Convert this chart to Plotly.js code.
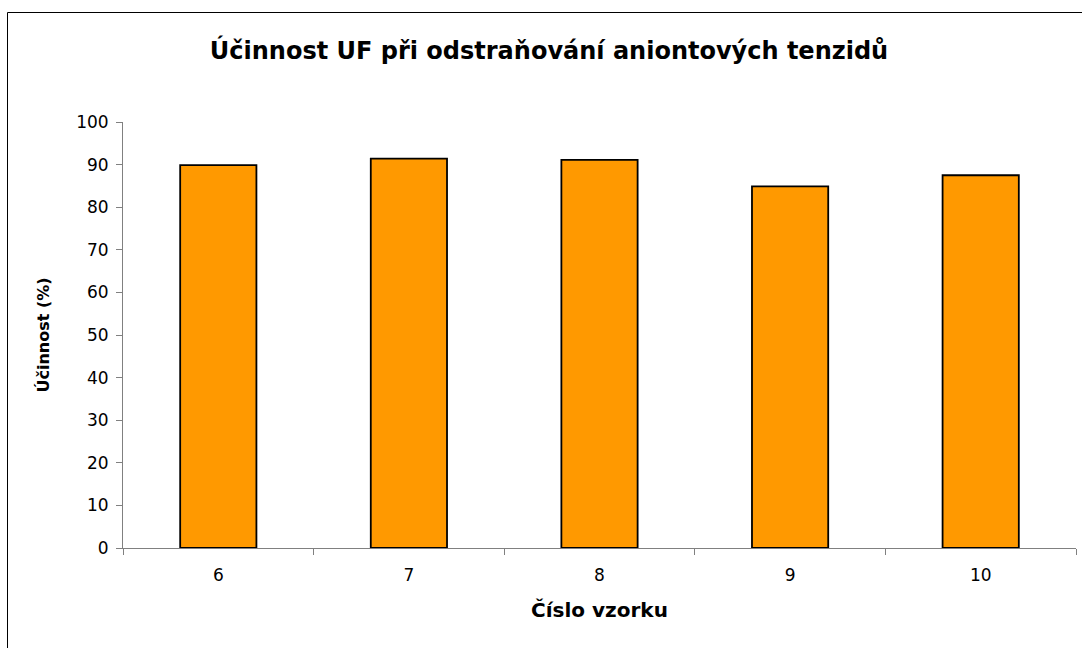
<!DOCTYPE html>
<html>
<head>
<meta charset="utf-8">
<script src="https://cdn.plot.ly/plotly-3.0.1.min.js"></script>
<style>html,body{margin:0;padding:0;background:#fff;overflow:hidden;}</style>
</head>
<body>
<div id="chart" style="width:1082px;height:648px;"></div>
<script>
const categories = ['6', '7', '8', '9', '10'];
const values = [89.9, 91.4, 91.1, 84.9, 87.5];
const yTicks = [0, 10, 20, 30, 40, 50, 60, 70, 80, 90, 100];

const W = 1082, H = 648;
const L = 123, R = 6, T = 122, B = 100;
const pw = W - L - R, ph = H - T - B;
const px = v => (v - L) / pw;
const py = v => 1 - (v - T) / ph;
const FONT = 'DejaVu Sans, Liberation Sans, Arial, sans-serif';

const trace = {
  type: 'bar',
  x: categories,
  y: values,
  marker: { color: '#FF9900', line: { color: '#000000', width: 1.8 } },
  hoverinfo: 'x+y'
};

const layout = {
  width: W, height: H,
  margin: { l: L, r: R, t: T, b: B, pad: 0 },
  paper_bgcolor: '#ffffff',
  plot_bgcolor: '#ffffff',
  showlegend: false,
  bargap: 0.6,
  font: { family: FONT, color: '#000', size: 16 },
  title: {
    text: '<b>Účinnost UF při odstraňování aniontových tenzidů</b>',
    font: { family: FONT, size: 24, color: '#000' },
    x: 549 / W, xanchor: 'center',
    y: 1 - 51 / H, yanchor: 'middle'
  },
  xaxis: {
    type: 'category',
    showline: true, linecolor: '#808080', linewidth: 1,
    ticks: 'outside', tickson: 'boundaries', ticklen: 6, tickcolor: '#808080',
    ticklabelstandoff: 12,
    showgrid: false, zeroline: false,
    tickfont: { family: FONT, size: 17 },
    title: { text: '<b>Číslo vzorku</b>', font: { family: FONT, size: 20 }, standoff: 18 }
  },
  yaxis: {
    range: [0, 100],
    tickvals: yTicks,
    showline: true, linecolor: '#808080', linewidth: 1,
    ticks: 'outside', ticklen: 6, tickcolor: '#808080',
    ticklabelstandoff: 4,
    showgrid: false, zeroline: false,
    tickfont: { family: FONT, size: 17 },
    title: { text: '<b>Účinnost (%)</b>', font: { family: FONT, size: 16 }, standoff: 22 }
  },
  shapes: [
    { type: 'line', xref: 'paper', yref: 'paper', x0: px(7.5), x1: px(1100), y0: py(12.5), y1: py(12.5), line: { color: '#000', width: 1 } },
    { type: 'line', xref: 'paper', yref: 'paper', x0: px(7.5), x1: px(7.5), y0: py(12.5), y1: py(700), line: { color: '#000', width: 1 } }
  ]
};

Plotly.newPlot('chart', [trace], layout, { displayModeBar: false, staticPlot: true });
</script>
</body>
</html>
